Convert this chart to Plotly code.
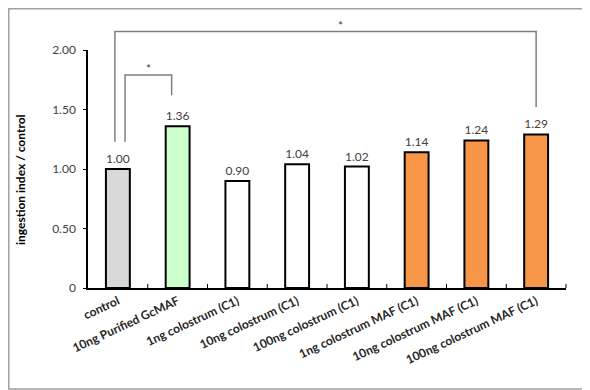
import plotly.graph_objects as go

categories = ["control", "10ng Purified GcMAF", "1ng colostrum (C1)", "10ng colostrum (C1)",
              "100ng colostrum (C1)", "1ng colostrum MAF (C1)", "10ng colostrum MAF (C1)",
              "100ng colostrum MAF (C1)"]
values = [1.00, 1.36, 0.90, 1.04, 1.02, 1.14, 1.24, 1.29]
value_labels = ["1.00", "1.36", "0.90", "1.04", "1.02", "1.14", "1.24", "1.29"]
bar_colors = ["#d9d9d9", "#ccffcc", "#ffffff", "#ffffff", "#ffffff", "#f79646", "#f79646", "#f79646"]
y_ticks = [0, 0.5, 1.0, 1.5, 2.0]
y_tick_labels = ["0", "0.50", "1.00", "1.50", "2.00"]
Y_MAX = 2.0

# significance brackets: (left x, right x, top y, left bottom y, right bottom y, star x)
brackets = [
    (-0.05, 7.0, 2.155, 1.23, 1.52, 3.72),
    (0.12, 0.9, 1.79, 1.23, 1.62, 0.52),
]

FONT = "Lato"
N = len(categories)

# page body has an 8px margin; shift the layout to compensate
OFF = 8
L, T, PW, PH = 88 - OFF, 50 - OFF, 478, 238
W, H = 590, 390


def px(xc):  # category coordinate -> paper x
    return (xc + 0.5) / N


def py(yv):  # data y -> paper y
    return yv / Y_MAX


fig = go.Figure()
fig.add_trace(go.Bar(
    x=list(range(N)), y=values,
    marker=dict(color=bar_colors, line=dict(color="black", width=2)),
    width=0.4,
    text=value_labels, textposition="outside",
    textfont=dict(family=FONT, size=12, color="#404040"),
    cliponaxis=False,
))

shapes = []
annotations = []
for (xl, xr, yt, ybl, ybr, xs) in brackets:
    shapes.append(dict(type="path", xref="paper", yref="paper",
                       path=f"M {px(xl)} {py(ybl)} L {px(xl)} {py(yt)} L {px(xr)} {py(yt)} L {px(xr)} {py(ybr)}",
                       line=dict(color="#7f7f7f", width=1.5)))
    annotations.append(dict(x=px(xs), y=py(yt), xref="paper", yref="paper", text="*", showarrow=False,
                            xanchor="center", yanchor="bottom", yshift=-3,
                            font=dict(family=FONT, size=12, color="#404040")))

annotations.append(dict(x=(20 - 88) / PW, y=(288 - 180) / PH, xref="paper", yref="paper",
                        text="<b>ingestion index / control</b>", textangle=-90,
                        xanchor="center", yanchor="middle",
                        showarrow=False, font=dict(family=FONT, size=12, color="black")))

# outer border (left/top at the page edge)
shapes.append(dict(type="rect", xref="paper", yref="paper",
                   x0=(-L + 0.8) / PW, x1=(588 - OFF - L) / PW,
                   y0=(T + PH - (389 - OFF)) / PH, y1=(PH + T - 0.8) / PH,
                   line=dict(color="#a0a0a0", width=1.5)))

# boundary tick marks on x axis (inside)
for i in range(N):
    b = px(i + 0.5)
    shapes.append(dict(type="line", xref="paper", yref="paper", x0=b, x1=b, y0=0, y1=4 / PH,
                       line=dict(color="black", width=1)))

fig.update_layout(
    width=W, height=H,
    margin=dict(l=L, r=W - L - PW, t=T, b=H - T - PH, autoexpand=False),
    paper_bgcolor="white", plot_bgcolor="white",
    showlegend=False,
    shapes=shapes, annotations=annotations,
    xaxis=dict(
        tickmode="array", tickvals=list(range(N)),
        ticktext=[f"<b>{c}</b>" for c in categories],
        tickangle=-25, range=[-0.5, N - 0.5],
        showline=True, linecolor="black", linewidth=1.5,
        ticks="", showgrid=False, zeroline=False, automargin=False,
        tickfont=dict(family=FONT, size=12, color="#262626"),
    ),
    yaxis=dict(
        range=[0, Y_MAX], tickvals=y_ticks, ticktext=y_tick_labels,
        showline=True, linecolor="black", linewidth=1.5,
        ticks="outside", ticklen=3, tickcolor="black", tickwidth=1,
        showgrid=False, zeroline=False, automargin=False,
        tickfont=dict(family=FONT, size=12, color="#404040"),
        ticklabelstandoff=5,
    ),
)

fig.write_html("out.html")
